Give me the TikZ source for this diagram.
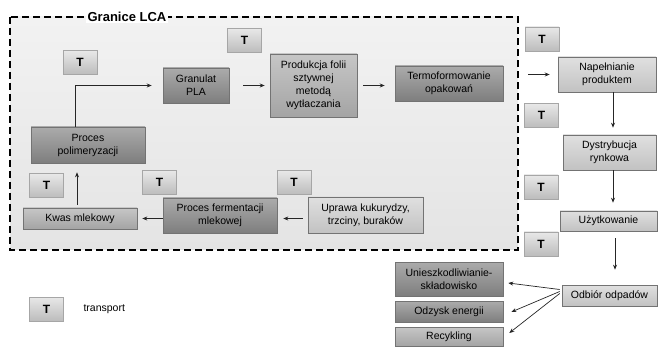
\documentclass[tikz,border=0pt]{standalone}
\usepackage{fontspec}
\setmainfont{Liberation Sans}
\usetikzlibrary{arrows.meta,calc}
\definecolor{dkTop}{HTML}{ABABAB}
\definecolor{dkBot}{HTML}{7E7E7E}
\definecolor{mdTop}{HTML}{C6C6C6}
\definecolor{mdBot}{HTML}{A4A4A4}
\definecolor{ltTop}{HTML}{E0E0E0}
\definecolor{ltBot}{HTML}{C2C2C2}
\definecolor{tTop}{HTML}{E8E8E8}
\definecolor{tBot}{HTML}{BCBCBC}
\definecolor{inTop}{HTML}{F2F2F2}
\definecolor{inBot}{HTML}{E4E4E4}
\begin{document}
\begin{tikzpicture}[x=1pt,y=-1pt,
  sz/.style 2 args={minimum width=#1, minimum height=#2},
  box/.style={draw=black!55, line width=0.6pt, align=center, inner sep=1pt,
    font=\fontsize{10.5}{13}\selectfont, text=black},
  dk/.style={box, top color=dkTop, bottom color=dkBot},
  md/.style={box, top color=mdTop, bottom color=mdBot},
  lt/.style={box, top color=ltTop, bottom color=ltBot},
  tbox/.style={draw=black!35, line width=0.5pt, top color=tTop, bottom color=tBot,
    font=\bfseries\fontsize{12}{12}\selectfont, minimum width=34pt, minimum height=24pt, inner sep=0pt},
  arr/.style={-{Stealth[length=5pt,width=4pt]}, line width=0.7pt, draw=black!85},
  border/.style={draw=black, line width=1.7pt, dash pattern=on 7pt off 4pt}
]
\useasboundingbox (0,0) rectangle (658,347);

% LCA boundary
\path[top color=inTop, bottom color=inBot] (10,17) rectangle (518,250);
\draw[border] (10,17) rectangle (518,250);
\node[fill=white, inner sep=1.5pt, font=\bfseries\fontsize{13}{13}\selectfont] (title) at (127,17) {Granice LCA};

% transport boxes
\node[tbox] (t1) at (80,62.5) {T};
\node[tbox] (t2) at (244.5,40.5) {T};
\node[tbox] (t3) at (46.5,185.5) {T};
\node[tbox] (t4) at (159.5,182.5) {T};
\node[tbox] (t5) at (294,182.5) {T};
\node[tbox] (t6) at (542,39) {T};
\node[tbox] (t7) at (541.5,115.5) {T};
\node[tbox] (t8) at (541,187) {T};
\node[tbox] (t9) at (541,244) {T};
\node[tbox] (tleg) at (46.5,309) {T};
\node[anchor=west, font=\fontsize{10.5}{13}\selectfont] (legtxt) at (80,309) {transport};

% process boxes inside LCA
\node[dk, sz={66pt}{35pt}] (gran) at (196,85.5) {Granulat\\PLA};
\node[md, sz={87pt}{63pt}] (prod) at (313.5,85.5) {Produkcja folii\\sztywnej\\metodą\\wytłaczania};
\node[dk, sz={108pt}{35pt}] (termo) at (449,83.5) {Termoformowanie\\opakowań};
\node[dk, sz={114pt}{36pt}] (polim) at (88,145) {Proces\\polimeryzacji};
\node[md, sz={114pt}{21pt}] (kwas) at (80,218.5) {Kwas mlekowy};
\node[dk, sz={114pt}{35pt}] (ferm) at (220,215.5) {Proces fermentacji\\mlekowej};
\node[lt, sz={115pt}{36pt}] (uprawa) at (365.5,215) {Uprawa kukurydzy,\\trzciny, buraków};

% right column
\node[lt, sz={98pt}{35pt}] (nap) at (607,74.5) {Napełnianie\\produktem};
\node[lt, sz={93pt}{35pt}] (dys) at (609.5,152.5) {Dystrybucja\\rynkowa};
\node[lt, sz={97pt}{20pt}] (uzyt) at (608.5,221) {Użytkowanie};
\node[lt, sz={95pt}{21pt}] (odb) at (609.5,295.5) {Odbiór odpadów};

% end of life
\node[dk, sz={108pt}{34pt}] (unie) at (449,279) {Unieszkodliwianie-\\składowisko};
\node[dk, sz={108pt}{21pt}] (odz) at (449,311.5) {Odzysk energii};
\node[md, sz={108pt}{19pt}] (rec) at (449,336.5) {Recykling};

% connectors
\draw[arr, shorten >=11pt] ($(polim.north)+(-13,0)$) |- (gran.west);
\draw[arr, shorten <=14pt, shorten >=5pt] (gran.east) -- (gran.east -| prod.west);
\draw[arr, shorten <=6pt, shorten >=10pt] (prod.east) -- (prod.east -| termo.west);
\draw[arr, shorten <=25pt, shorten >=8pt] (termo.east |- nap.west) -- (nap.west);
\draw[arr, shorten >=7pt] ($(nap.south)+(6,0)$) coordinate (n1) -- (n1 |- dys.north);
\draw[arr, shorten >=8pt] ($(dys.south)+(3.5,0)$) coordinate (d1) -- (d1 |- uzyt.north);
\draw[arr, shorten <=7pt, shorten >=15pt] ($(uzyt.south)+(6.5,0)$) coordinate (u1) -- (u1 |- odb.north);
\draw[arr] ($(odb.west)+(-2,-6)$) -- ($(unie.east)+(5,4)$);
\draw[arr] ($(odb.west)+(-2,-4)$) -- ($(odz.east)+(8,0.5)$);
\draw[arr] ($(odb.west)+(-2,-2)$) -- ($(rec.east)+(6,-3.5)$);
\draw[arr, shorten <=5pt, shorten >=6pt] ($(uprawa.west)+(0,3.5)$) coordinate (p1) -- (p1 -| ferm.east);
\draw[arr, shorten >=5pt] (ferm.west |- kwas.east) -- (kwas.east);
\draw[arr, shorten <=3pt, shorten >=9pt] ($(kwas.north)+(-3,0)$) coordinate (k1) -- (k1 |- polim.south);
\end{tikzpicture}
\end{document}
